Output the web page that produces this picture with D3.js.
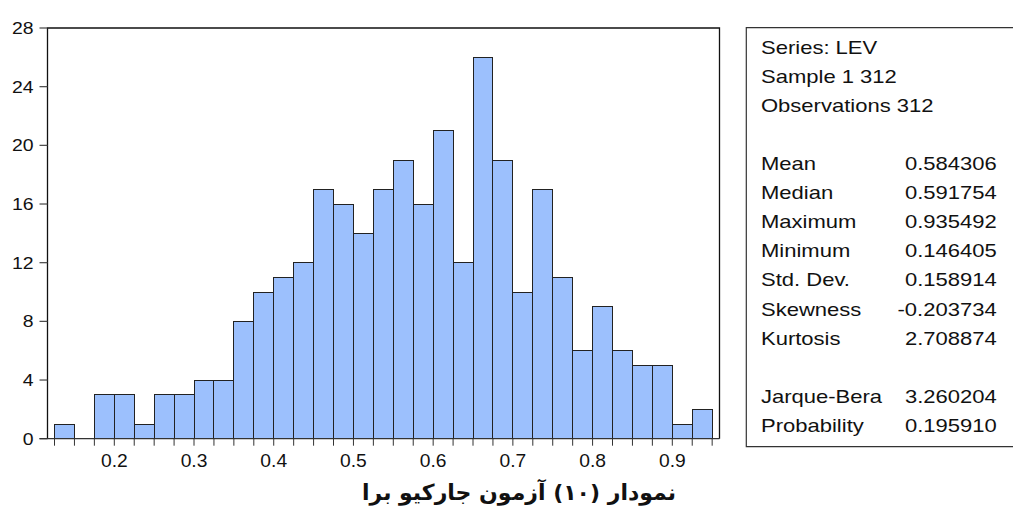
<!DOCTYPE html>
<html><head><meta charset="utf-8">
<script src="https://cdn.jsdelivr.net/npm/d3@7"></script>
<style>body{margin:0;background:#fff;} svg{display:block;}</style>
</head><body>
<svg id="c" width="1013" height="513"></svg>
<script>
// Data
const binStart = 0.125, binWidth = 0.025;
const counts = [1,0,3,3,1,3,3,4,4,8,10,11,12,17,16,14,17,19,16,21,12,26,19,10,17,11,6,9,6,5,5,1,2];
const yTicks = [0,4,8,12,16,20,24,28];
const xTicks = [0.2,0.3,0.4,0.5,0.6,0.7,0.8,0.9];
const statLabels = ["Mean","Median","Maximum","Minimum","Std. Dev.","Skewness","Kurtosis"];
const statValues = ["0.584306","0.591754","0.935492","0.146405","0.158914","-0.203734","2.708874"];
const headerLines = ["Series: LEV","Sample 1 312","Observations 312"];
const testLabels = ["Jarque-Bera","Probability"];
const testValues = ["3.260204","0.195910"];
const title = "نمودار (۱۰) آزمون جارکیو برا";

const svg = d3.select("#c");
const L = 47.5, R = 719.5, T = 28, B = 438.7;
const x = d3.scaleLinear().domain([0.2, 0.9]).range([114.3, 672.3]);
const y = d3.scaleLinear().domain([0, 28]).range([B, T]);
const font = "'Liberation Sans', Arial, sans-serif";

// stretched text helper
function stext(g, tx, ty, str, size, sx, anchor) {
  return g.append("text")
    .attr("transform", `translate(${tx},${ty}) scale(${sx},1)`)
    .attr("text-anchor", anchor || "start")
    .attr("font-family", font).attr("font-size", size).attr("fill", "#111")
    .text(str);
}

const bins = counts.map((c,i)=>({x0: binStart + i*binWidth, x1: binStart + (i+1)*binWidth, c}));

// bars
svg.append("g").selectAll("rect").data(bins).join("rect")
  .attr("x", d=>x(d.x0)).attr("width", d=>x(d.x1)-x(d.x0))
  .attr("y", d=>y(d.c)).attr("height", d=>y(0)-y(d.c))
  .attr("fill", "#9cc0fd").attr("stroke", "#222").attr("stroke-width", 1)
  .attr("shape-rendering","crispEdges");

// frame (top, left, right)
svg.append("path").attr("d", `M${L},${B}V${T}H${R}V${B}`)
  .attr("fill","none").attr("stroke","#111").attr("stroke-width",1.3);

// y axis ticks + labels
const yg = svg.append("g");
yg.selectAll("line").data(yTicks).join("line")
  .attr("x1", L-8).attr("x2", L).attr("y1", d=>y(d)).attr("y2", d=>y(d))
  .attr("stroke","#444").attr("stroke-width",1.2);
yTicks.forEach(v => stext(yg, 33.5, y(v)+6, String(v), 17.2, 1.13, "end"));

// x axis line and ticks
svg.append("line").attr("x1",L-8).attr("x2",R).attr("y1",B).attr("y2",B).attr("stroke","#333").attr("stroke-width",1.3);
const minorTicks = d3.range(counts.length+1).map(i=>binStart + i*binWidth);
svg.append("g").selectAll("line").data(minorTicks).join("line")
  .attr("x1", d=>x(d)).attr("x2", d=>x(d)).attr("y1", B).attr("y2", B+7)
  .attr("stroke","#333").attr("stroke-width",1);
const xg = svg.append("g");
xTicks.forEach(v => stext(xg, x(v), 467, d3.format(".1f")(v), 17.5, 1.1, "middle"));

// stats box
svg.append("path").attr("d", "M1014,27.7H746.3V446.7H1014")
  .attr("fill","none").attr("stroke","#333").attr("stroke-width",1.2);
const lh = 29.08, base0 = 53.8, tx = 761, vx = 905, fs = 18.5, sx = 1.19;
const st = svg.append("g");
headerLines.forEach((t,i)=>stext(st, tx, base0+i*lh, t, fs, sx));
statLabels.forEach((t,i)=>{
  stext(st, tx, base0+(i+4)*lh, t, fs, sx);
  const v = statValues[i];
  stext(st, v.startsWith("-") ? vx-7.5 : vx, base0+(i+4)*lh, v, fs, sx);
});
testLabels.forEach((t,i)=>{
  stext(st, tx, base0+(i+12)*lh, t, fs, sx);
  stext(st, vx, base0+(i+12)*lh, testValues[i], fs, sx);
});

// title
svg.append("text").attr("x",519).attr("y",500).attr("text-anchor","middle")
  .attr("direction","rtl")
  .attr("font-family","'DejaVu Sans', sans-serif").attr("font-weight","bold").attr("font-size",22)
  .attr("fill","#111").text(title);
</script>
</body></html>
